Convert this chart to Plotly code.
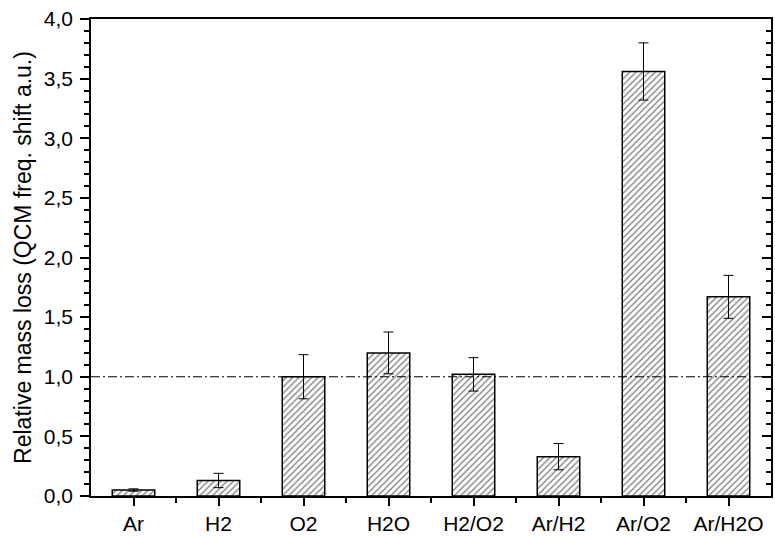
import plotly.graph_objects as go

categories = ["Ar", "H2", "O2", "H2O", "H2/O2", "Ar/H2", "Ar/O2", "Ar/H2O"]
values = [0.05, 0.13, 1.00, 1.20, 1.02, 0.33, 3.56, 1.67]
errors = [0.01, 0.06, 0.185, 0.175, 0.14, 0.11, 0.24, 0.18]
ref_level = 1.0
y_ticks = [0.0, 0.5, 1.0, 1.5, 2.0, 2.5, 3.0, 3.5, 4.0]

xpos = list(range(len(categories)))
font = "Liberation Sans, Arial, sans-serif"
fs = 21

fig = go.Figure()
fig.add_trace(go.Bar(
    x=xpos, y=values, width=0.5,
    marker=dict(color="white",
                line=dict(color="black", width=1.5),
                pattern=dict(shape="/", fgcolor="black", bgcolor="white",
                             size=4.5, solidity=0.3)),
    error_y=dict(type="data", array=errors, visible=True,
                 color="black", thickness=1, width=5),
    showlegend=False, hoverinfo="skip",
))
fig.add_trace(go.Scatter(
    x=[-0.5, len(categories) - 0.5], y=[ref_level, ref_level],
    mode="lines", yaxis="y2",
    line=dict(color="black", width=1, dash="9px,3px,2px,3px"),
    showlegend=False, hoverinfo="skip",
))

fig.update_layout(
    width=775, height=537,
    margin=dict(l=91, r=2, t=19, b=40),
    paper_bgcolor="white", plot_bgcolor="white",
    separators=",.",
    font=dict(family=font, size=fs, color="black"),
    xaxis=dict(
        range=[-0.5, len(categories) - 0.5],
        tickmode="array", tickvals=xpos, ticktext=categories,
        ticks="outside", ticklen=8, tickwidth=1.5, tickcolor="black",
        showline=True, linecolor="black", linewidth=1.5, mirror=True,
        showgrid=False, zeroline=False,
        minor=dict(tickmode="array", tickvals=[i + 0.5 for i in xpos[:-1]],
                   ticks="outside", ticklen=5, tickwidth=1.5, tickcolor="black"),
        tickfont=dict(size=fs),
    ),
    yaxis=dict(
        range=[0, 4], tickmode="array", tickvals=y_ticks, tickformat=".1f",
        ticks="outside", ticklen=9, tickwidth=1.5, tickcolor="black",
        showline=True, linecolor="black", linewidth=1.5, mirror=True,
        showgrid=False, zeroline=False,
        minor=dict(dtick=0.1, tick0=0, ticks="outside", ticklen=5,
                   tickwidth=1.5, tickcolor="black"),
        title=dict(text="Relative mass loss (QCM freq. shift a.u.)",
                   font=dict(size=23), standoff=6),
        tickfont=dict(size=fs),
        ticklabelstandoff=3,
    ),
    yaxis2=dict(
        range=[0, 4], overlaying="y", side="right",
        tickmode="array", tickvals=y_ticks, showticklabels=False,
        ticks="inside", ticklen=9, tickwidth=1.5, tickcolor="black",
        showline=True, linecolor="black", linewidth=1.5,
        showgrid=False, zeroline=False,
        minor=dict(dtick=0.1, tick0=0, ticks="inside", ticklen=5,
                   tickwidth=1.5, tickcolor="black"),
    ),
)

fig.write_html("out.html")
